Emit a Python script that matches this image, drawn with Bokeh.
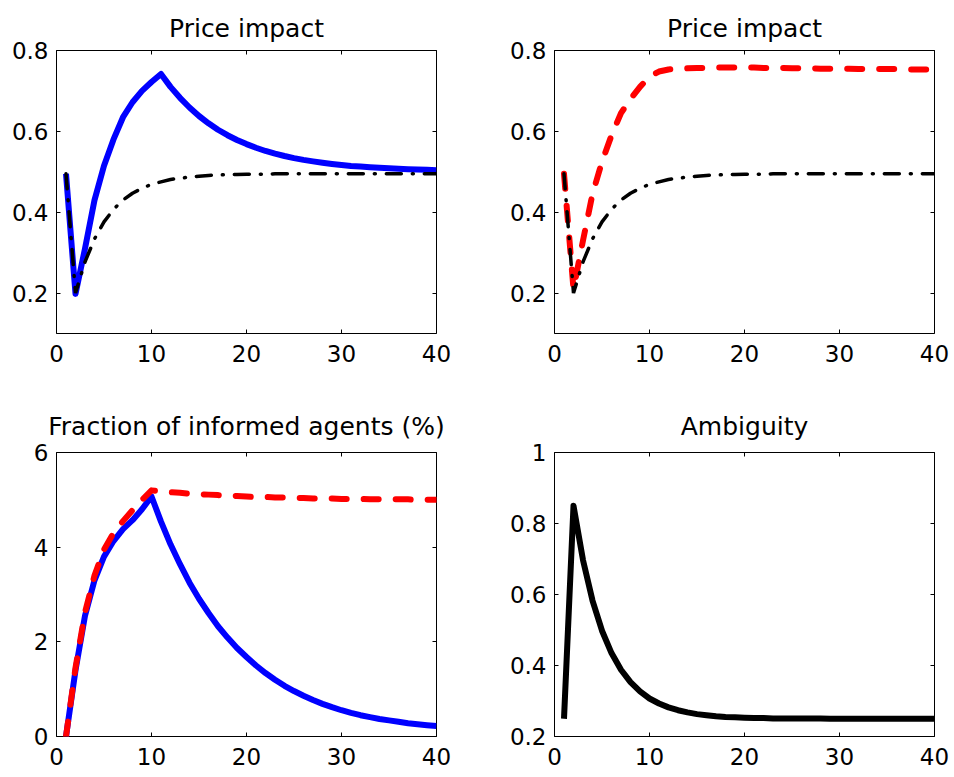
from bokeh.plotting import figure
from bokeh.layouts import gridplot
from bokeh.models import Range1d, FixedTicker, LinearAxis, CustomLabelingPolicy
from bokeh.embed import file_html
from bokeh.resources import INLINE

t = list(range(1, 41))

# Price impact, ambiguity (blue, solid) - panel 1
price_impact_amb = [0.495, 0.198, 0.31, 0.43, 0.515, 0.58, 0.635, 0.672, 0.70, 0.722,
                    0.742, 0.710, 0.683, 0.659, 0.638, 0.620, 0.604, 0.5905, 0.5787, 0.5685,
                    0.5595, 0.5515, 0.5448, 0.539, 0.5339, 0.5295, 0.5257, 0.5223, 0.5194, 0.5169,
                    0.5145, 0.5128, 0.5111, 0.5097, 0.5085, 0.5073, 0.5063, 0.5056, 0.5048, 0.5041]

# Price impact, benchmark (black dash-dot)
price_impact_base = [0.495, 0.200, 0.277, 0.334, 0.376, 0.407, 0.430, 0.447, 0.459, 0.469,
                     0.475, 0.481, 0.484, 0.487, 0.489, 0.491, 0.492, 0.493, 0.493, 0.494,
                     0.494, 0.494, 0.495, 0.495, 0.495, 0.495, 0.495, 0.495, 0.495, 0.495,
                     0.495, 0.495, 0.495, 0.495, 0.495, 0.495, 0.495, 0.495, 0.495, 0.495]

# Price impact, alternative (red dashed) - panel 2
price_impact_alt = [0.495, 0.21, 0.33, 0.445, 0.525, 0.59, 0.645, 0.68, 0.71, 0.735,
                    0.748, 0.753, 0.755, 0.756, 0.757, 0.757, 0.758, 0.758, 0.758, 0.758,
                    0.758, 0.757, 0.757, 0.757, 0.756, 0.756, 0.756, 0.755, 0.755, 0.755,
                    0.755, 0.754, 0.754, 0.754, 0.754, 0.754, 0.753, 0.753, 0.753, 0.753]

# Fraction of informed agents (%)
informed_amb = [0.0, 1.4, 2.55, 3.3, 3.8, 4.13, 4.38, 4.57, 4.8, 5.07,
                4.54, 4.06, 3.64, 3.25, 2.91, 2.61, 2.33, 2.09, 1.87, 1.68,
                1.50, 1.34, 1.20, 1.07, 0.96, 0.86, 0.77, 0.69, 0.62, 0.555,
                0.50, 0.45, 0.41, 0.37, 0.34, 0.31, 0.28, 0.26, 0.24, 0.22]
informed_alt = [0.0, 1.45, 2.62, 3.4, 3.95, 4.3, 4.55, 4.78, 5.0, 5.2,
                5.18, 5.16, 5.15, 5.13, 5.12, 5.11, 5.10, 5.09, 5.08, 5.07,
                5.06, 5.06, 5.05, 5.05, 5.04, 5.04, 5.03, 5.03, 5.03, 5.02,
                5.02, 5.02, 5.01, 5.01, 5.01, 5.01, 5.01, 5.0, 5.0, 5.0]

# Ambiguity
ambiguity = [0.25, 0.85, 0.697, 0.583, 0.498, 0.435, 0.388, 0.353, 0.327, 0.307,
             0.293, 0.282, 0.274, 0.268, 0.263, 0.260, 0.257, 0.255, 0.254, 0.253,
             0.252, 0.252, 0.251, 0.251, 0.251, 0.2505, 0.2505, 0.2505, 0.250, 0.250,
             0.250, 0.250, 0.250, 0.250, 0.250, 0.250, 0.250, 0.250, 0.250, 0.250]

x_ticks = [0, 10, 20, 30, 40]
FONT = "DejaVu Sans"
FS = "23px"

NO_LABELS = "const a = Array.from(indices); for (const i of a) indices.unset(i); return indices"


def mirror_axis(ticks):
    return LinearAxis(ticker=FixedTicker(ticks=ticks),
                      major_label_policy=CustomLabelingPolicy(code=NO_LABELS),
                      major_label_text_font_size="0px",
                      major_label_standoff=0, major_tick_in=4, major_tick_out=0,
                      minor_tick_line_color=None, axis_line_color=None,
                      major_tick_line_color="black")


def make_fig(title, yr, yticks, left_col, top_row, overrides=None):
    w = 477
    h = 390 if top_row else 387
    bl = 56 if left_col else 77
    br = 41 if left_col else 20
    bt = 50 if top_row else 62
    bb = 57 if top_row else 41
    p = figure(width=w, height=h, x_range=Range1d(0, 40), y_range=Range1d(*yr),
               output_backend="svg", toolbar_location=None, title=title,
               min_border_left=bl, min_border_right=br, min_border_top=bt,
               min_border_bottom=bb)
    p.background_fill_color = "white"
    p.border_fill_color = "white"
    p.outline_line_color = "black"
    p.outline_line_width = 1
    p.grid.visible = False
    p.title.text_font = FONT
    p.title.text_font_size = "25px"
    p.title.text_font_style = "normal"
    p.title.text_color = "black"
    p.title.align = "center"
    p.title.standoff = 16 if top_row else 24

    for ax in (p.xaxis[0], p.yaxis[0]):
        ax.major_label_text_font = FONT
        ax.major_label_text_font_size = FS
        ax.major_label_text_color = "black"
        ax.major_tick_in = 4
        ax.major_tick_out = 0
        ax.major_tick_line_color = "black"
        ax.minor_tick_line_color = None
        ax.axis_line_color = None
    p.xaxis[0].ticker = FixedTicker(ticks=x_ticks)
    p.yaxis[0].ticker = FixedTicker(ticks=yticks)
    p.xaxis[0].major_label_standoff = 11
    p.yaxis[0].major_label_standoff = 8
    if overrides:
        p.yaxis[0].major_label_overrides = overrides

    p.add_layout(mirror_axis(x_ticks), "above")
    p.add_layout(mirror_axis(yticks), "right")
    return p


p1 = make_fig("Price impact", (0.1, 0.8), [0.2, 0.4, 0.6, 0.8], True, True)
p1.line(t, price_impact_amb, line_color="#0000FF", line_width=6, line_join="round")
p1.line(t, price_impact_base, line_color="black", line_width=3.5, line_dash="15 11 1 11",
        line_cap="round")

p2 = make_fig("Price impact", (0.1, 0.8), [0.2, 0.4, 0.6, 0.8], False, True)
p2.line(t, price_impact_alt, line_color="#FF0000", line_width=6, line_dash="15 17",
        line_cap="round", line_join="round")
p2.line(t, price_impact_base, line_color="black", line_width=3.5, line_dash="15 11 1 11",
        line_cap="round")

p3 = make_fig("Fraction of informed agents (%)", (0, 6), [0, 2, 4, 6], True, False)
p3.line(t, informed_amb, line_color="#0000FF", line_width=6, line_join="round")
p3.line(t, informed_alt, line_color="#FF0000", line_width=6, line_dash="15 17",
        line_cap="round", line_join="round")

p4 = make_fig("Ambiguity", (0.2, 1.0), [0.2, 0.4, 0.6, 0.8, 1.0], False, False,
              overrides={1: "1", 1.0: "1"})
p4.line(t, ambiguity, line_color="black", line_width=6, line_join="round")

grid = gridplot([[p1, p2], [p3, p4]], toolbar_location=None)

open("out.html", "w").write(file_html(grid, INLINE))
